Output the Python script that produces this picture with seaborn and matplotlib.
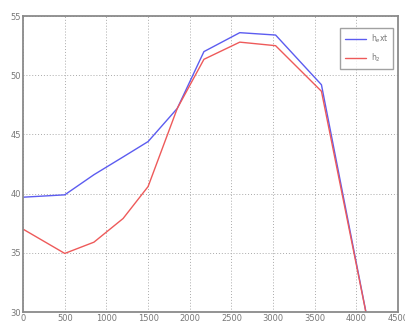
import matplotlib
matplotlib.use("Agg")
import matplotlib.pyplot as plt
import seaborn as sns
import pandas as pd

# Sample positions and the two curves
x_vals = [0, 500, 850, 1200, 1500, 1850, 2170, 2600, 3030, 3580, 4150]
h_ext = [39.7, 39.9, 41.6, 43.1, 44.4, 47.2, 52.0, 53.6, 53.4, 49.2, 28.7]
h_2 = [37.0, 34.95, 35.9, 37.9, 40.6, 47.2, 51.35, 52.8, 52.5, 48.65, 28.7]
series_names = [r"h$_e$xt", r"h$_2$"]
x_ticks = [0, 500, 1000, 1500, 2000, 2500, 3000, 3500, 4000, 4500]
y_ticks = [30, 35, 40, 45, 50, 55]

df = pd.DataFrame({
    "x": x_vals * 2,
    "y": h_ext + h_2,
    "series": [series_names[0]] * len(x_vals) + [series_names[1]] * len(x_vals),
})

sns.set_style("white")
plt.rcParams["font.family"] = ["DejaVu Sans"]

fig = plt.figure(figsize=(4.05, 3.22), dpi=100)
ax = fig.add_axes([0.057, 0.031, 0.926, 0.919])

sns.lineplot(data=df, x="x", y="y", hue="series", sort=False,
             palette=["#5c5cf0", "#ee5a5a"], linewidth=1.0, ax=ax)

ax.set_xlim(0, 4500)
ax.set_ylim(30, 55)
ax.set_xticks(x_ticks)
ax.set_yticks(y_ticks)
ax.set_xlabel("")
ax.set_ylabel("")
ax.grid(True, linestyle=(0, (1, 2)), color="#aaaaaa", linewidth=0.7)
ax.tick_params(direction="in", length=3, labelsize=6, colors="#777777",
               pad=1.5)
for side in ax.spines.values():
    side.set_color("#8a8a8a")
    side.set_linewidth(1.3)

leg = ax.legend(loc="upper right", fontsize=5.5, frameon=True, fancybox=False,
                edgecolor="#8a8a8a", handlelength=2.8, borderpad=0.6,
                labelspacing=0.9, handletextpad=0.6,
                bbox_to_anchor=(0.997, 0.973))
leg.get_frame().set_linewidth(1.0)
for t in leg.get_texts():
    t.set_color("#777777")

fig.savefig("out.png", dpi=100, facecolor="white")
